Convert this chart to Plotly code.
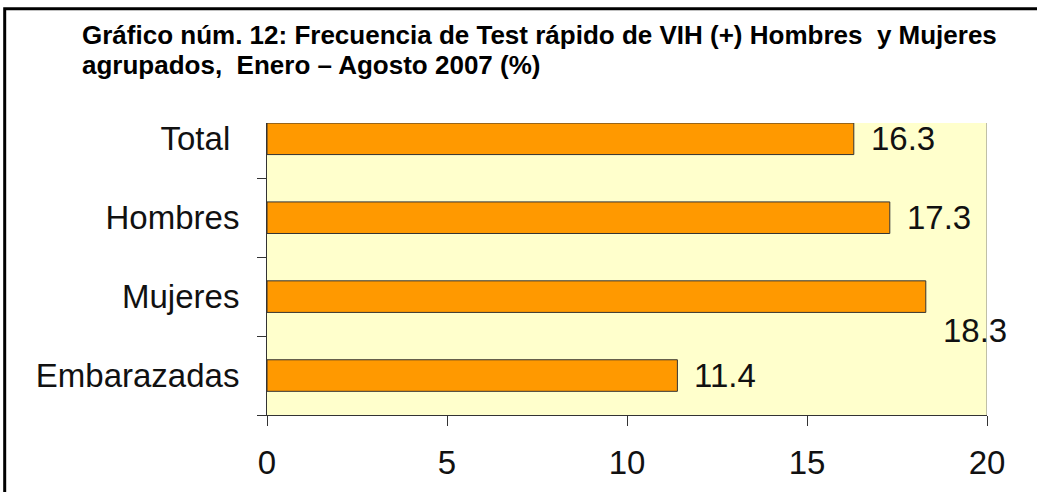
import plotly.graph_objects as go

categories = ["Total", "Hombres", "Mujeres", "Embarazadas"]
values = [16.3, 17.3, 18.3, 11.4]
tick_labels = ["Total\u00a0", "Hombres", "Mujeres", "Embarazadas"]
x_ticks = [0, 5, 10, 15, 20]

title_lines = ["<b>Gráfico núm. 12: Frecuencia de Test rápido de VIH (+) Hombres\u00a0 y Mujeres</b>",
               "<b>agrupados,\u00a0 Enero – Agosto 2007 (%)</b>"]

W, H = 1037, 492
L, R, T, B = 267, 50, 123, 77
FONT = "Liberation Sans, Arial, sans-serif"
pw, ph = W - L - R, H - T - B


def px_x(p):
    return (p - L) / pw


def px_y(p):
    return (H - B - p) / ph


fig = go.Figure(go.Bar(
    x=values, y=categories, orientation="h",
    width=0.4,
    marker=dict(color="#FF9900", line=dict(color="#333333", width=1)),
    hoverinfo="x+y",
))

# value labels (Mujeres label pushed down as in original)
label_dy = [0, 0, -34, 0]
for c, v, dy in zip(categories, values, label_dy):
    fig.add_annotation(x=v, y=c, xref="x", yref="y", text=f"{v:.1f}",
                       showarrow=False, xanchor="left", yanchor="middle",
                       xshift=15, yshift=dy,
                       font=dict(family=FONT, size=33, color="#111111"))

# title, two lines
for txt, yc in zip(title_lines, [35, 65]):
    fig.add_annotation(x=px_x(80), y=px_y(yc), xref="paper", yref="paper",
                       text=txt, showarrow=False, xanchor="left", yanchor="middle",
                       font=dict(family=FONT, size=26, color="#000000"))

# outer black frame (extends beyond image right/bottom)
fig.add_shape(type="rect", xref="paper", yref="paper",
              x0=px_x(4.7), x1=px_x(W + 20),
              y0=px_y(H + 20), y1=px_y(8.7),
              line=dict(color="#000000", width=3), layer="below")
# right plot edge
fig.add_shape(type="line", xref="x", yref="paper", x0=20, x1=20, y0=0, y1=1,
              line=dict(color="#808080", width=1))

fig.update_layout(
    width=W, height=H,
    margin=dict(l=L, r=R, t=T, b=B, pad=0),
    paper_bgcolor="#FFFFFF", plot_bgcolor="#FFFFCC",
    showlegend=False,
    font=dict(family=FONT, size=33, color="#111111"),
    xaxis=dict(range=[0, 20], tickvals=x_ticks, showgrid=False, zeroline=False,
               showline=True, linecolor="#333333", linewidth=1,
               ticks="outside", ticklen=10, tickcolor="#333333", tickwidth=1,
               ticklabelstandoff=8, automargin=False, fixedrange=True),
    yaxis=dict(range=[3.5, -0.2], tickvals=categories, ticktext=tick_labels,
               tickson="boundaries", showgrid=False, zeroline=False,
               showline=True, linecolor="#333333", linewidth=1,
               ticks="outside", ticklen=9, tickcolor="#333333", tickwidth=1,
               ticklabelstandoff=20, automargin=False, fixedrange=True),
)

fig.write_html("out.html", config={"displayModeBar": False},
               post_script="document.body.style.margin='0';document.body.style.padding='0';")
